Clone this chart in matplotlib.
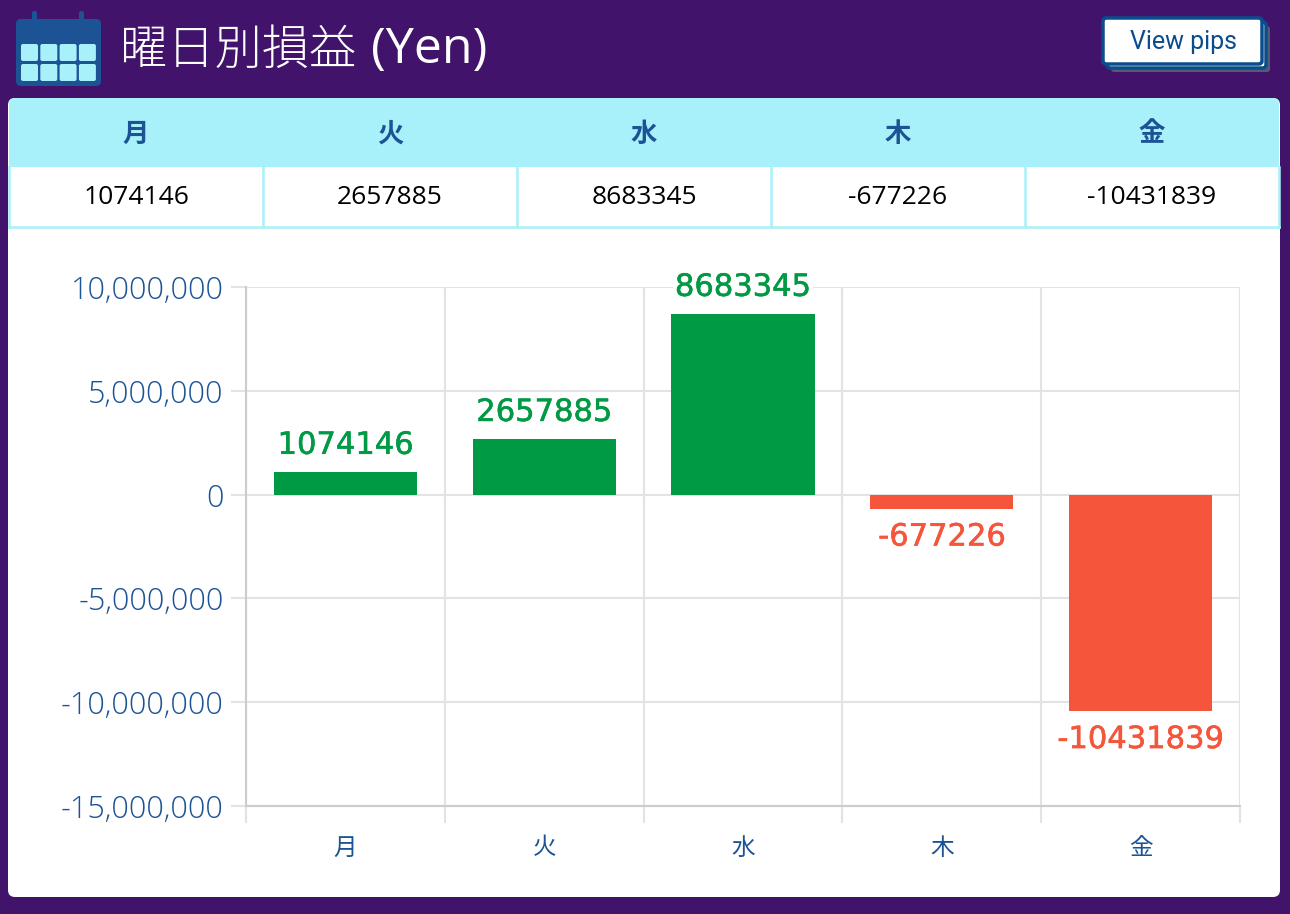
import matplotlib as mpl
import matplotlib.pyplot as plt
import matplotlib.patheffects as pe
from matplotlib.patches import FancyBboxPatch, Rectangle
from matplotlib.ticker import FuncFormatter, MultipleLocator, FixedLocator
import numpy as np

mpl.rcParams['font.family'] = ['Noto Sans CJK JP', 'DejaVu Sans']

W, H = 1290, 914

# data
days = ['月', '火', '水', '木', '金']
profits = [1074146, 2657885, 8683345, -677226, -10431839]
title_jp = '曜日別損益'
title_unit = '(Yen)'
button_text = 'View pips'

bg = '#41136a'
blue = '#1b5395'
green = '#009944'
red = '#f5553a'
cyan = '#a8f0fa'
latin = ['Open Sans', 'Noto Sans CJK JP']

fig = plt.figure(figsize=(W / 100, H / 100), dpi=100)
fig.patch.set_facecolor(bg)

# overlay in pixel coords for the page furniture
deco = fig.add_axes((0, 0, 1, 1))
deco.set_xlim(0, W)
deco.set_ylim(H, 0)
deco.axis('off')

# calendar icon
deco.add_patch(FancyBboxPatch((16, 19), 85, 67, boxstyle='round,pad=0,rounding_size=5',
                              fc=blue, ec='none'))
for rx in (34.5, 81.5):
    deco.add_patch(FancyBboxPatch((rx - 2.5, 11), 5, 12, boxstyle='round,pad=0,rounding_size=2',
                                  fc=blue, ec='none'))
for row in range(2):
    for col in range(4):
        deco.add_patch(FancyBboxPatch((21 + col * 19.3, 44 + row * 20), 17, 17,
                                      boxstyle='round,pad=0,rounding_size=2',
                                      fc=cyan, ec='none'))

deco.text(120, 50, title_jp, color='white', fontsize=34, fontweight='light',
          va='center', ha='left')
deco.text(371, 50, title_unit, color='white', fontsize=36, family=latin,
          va='center', ha='left')

# view pips button with stacked shadow
deco.add_patch(FancyBboxPatch((1111, 26), 159, 46, boxstyle='round,pad=0,rounding_size=3',
                              fc='#555a6e', ec='none'))
deco.add_patch(FancyBboxPatch((1107, 22), 159, 46, boxstyle='round,pad=0,rounding_size=3',
                              fc='white', ec='#0a4d8c', lw=2.5))
deco.add_patch(FancyBboxPatch((1103, 18), 159, 46, boxstyle='round,pad=0,rounding_size=3',
                              fc='white', ec='#0a4d8c', lw=2.5))
deco.text(1183, 42, button_text, color='#0a4d8c', fontsize=18, family='Roboto',
          ha='center', va='center')

# white card
deco.add_patch(FancyBboxPatch((8, 98), 1272, 799, boxstyle='round,pad=0,rounding_size=7',
                              fc='white', ec='none'))

# table
deco.add_patch(FancyBboxPatch((9, 98), 1270, 69, boxstyle='round,pad=0,rounding_size=6',
                              fc=cyan, ec='none'))
deco.add_patch(Rectangle((9, 130), 1270, 37, fc=cyan, ec='none'))
col_w = 1270 / len(days)
deco.plot([9, 1279], [227, 227], color=cyan, lw=1.8)
deco.plot([9, 9], [167, 227], color=cyan, lw=1.8)
deco.plot([1279, 1279], [167, 227], color=cyan, lw=1.8)
for i, (d, v) in enumerate(zip(days, profits)):
    cx = 9 + col_w * (i + 0.5)
    if i > 0:
        deco.plot([9 + col_w * i] * 2, [167, 227], color=cyan, lw=1.8)
    deco.text(cx, 134, d, color=blue, fontsize=19, fontweight='bold',
              ha='center', va='center')
    deco.text(cx, 198, str(v), color='black', fontsize=19, family=latin,
              ha='center', va='center')

# chart
left, right, top, bottom = 246, 1240, 287, 806
ax = fig.add_axes((left / W, (H - bottom) / H, (right - left) / W, (bottom - top) / H))
ax.set_facecolor('white')
x = np.arange(len(days))
colors = [green if v >= 0 else red for v in profits]
ax.bar(x, profits, width=0.72, color=colors, zorder=3)

ax.set_xlim(-0.5, len(days) - 0.5)
ax.set_ylim(-15000000, 10000000)
ax.yaxis.set_major_locator(MultipleLocator(5000000))
ax.yaxis.set_major_formatter(FuncFormatter(lambda v, p: f'{int(v):,}'))
ax.xaxis.set_minor_locator(FixedLocator(np.arange(-0.5, len(days), 1.0)))
ax.set_xticks(x)
ax.set_xticklabels(days)

ax.grid(True, axis='y', which='major', color='#e3e3e3', lw=1.5, zorder=0)
ax.grid(True, axis='x', which='minor', color='#e3e3e3', lw=1.5, zorder=0)
ax.grid(False, axis='x', which='major')

for s in ('top', 'right'):
    ax.spines[s].set_visible(False)
for s in ('left', 'bottom'):
    ax.spines[s].set_color('#cccccc')
    ax.spines[s].set_linewidth(1.5)

ax.tick_params(axis='y', length=11, width=1.5, color='#e3e3e3', labelcolor=blue,
               labelsize=22, pad=5)
ax.tick_params(axis='x', which='major', length=0, labelcolor=blue, labelsize=17, pad=22)
ax.tick_params(axis='x', which='minor', length=12, width=1.5, color='#e3e3e3')
for lbl in ax.get_yticklabels():
    lbl.set_family(latin)
    lbl.set_fontweight('light')

for xi, v, c in zip(x, profits, colors):
    off = 9 if v >= 0 else -10
    t = ax.annotate(str(v), (xi, v), xytext=(0, off), textcoords='offset points',
                    ha='center', va='bottom' if v >= 0 else 'top', color=c,
                    fontsize=22, family='DejaVu Sans', zorder=4,
                    bbox=dict(fc='white', ec='none', pad=1))
    t.set_path_effects([pe.withStroke(linewidth=0.4, foreground=c)])

fig.savefig('out.png', dpi=100, facecolor=bg)
